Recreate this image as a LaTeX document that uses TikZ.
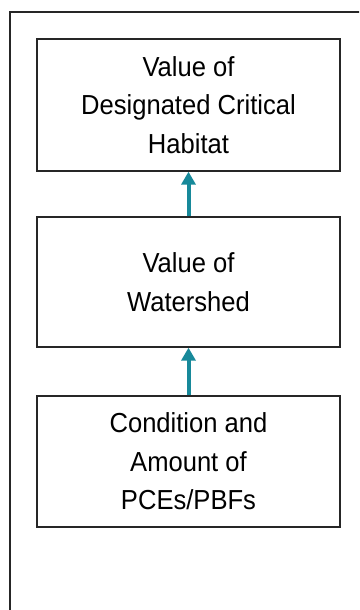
\documentclass[tikz,border=0pt]{standalone}
\usepackage{fontspec}
\setmainfont{Liberation Sans}[FakeStretch=0.93]
\usetikzlibrary{arrows.meta}
\definecolor{tealarrow}{HTML}{17899A}
\tikzset{
  stagebox/.style={draw=black!85, line width=1.3pt, minimum width=303pt, align=center,
    font=\fontsize{27.5}{38.5}\selectfont, inner sep=0pt},
  uparrow/.style={draw=tealarrow, line width=4pt, -{Triangle[width=14pt,length=13pt]}}
}
\begin{document}
\begin{tikzpicture}[x=1pt,y=-1pt]
\useasboundingbox (0,0) rectangle (359,610);
\clip (0,0) rectangle (359,610);
% Outer frame (runs off the page at right and bottom)
\draw[black!85, line width=1.3pt] (10,12) rectangle (380,640);
% Stages
\node[stagebox, minimum height=132pt] (habitat) at (188.5,105) {Value of\\Designated Critical\\Habitat};
\node[stagebox, minimum height=130pt] (watershed) at (188.5,282) {Value of\\Watershed};
\node[stagebox, minimum height=131pt] (pce) at (188.5,461.5) {Condition and\\Amount of\\PCEs/PBFs};
% Links
\draw[uparrow] (watershed.north) -- (habitat.south);
\draw[uparrow] (pce.north) -- (watershed.south);
\end{tikzpicture}
\end{document}
